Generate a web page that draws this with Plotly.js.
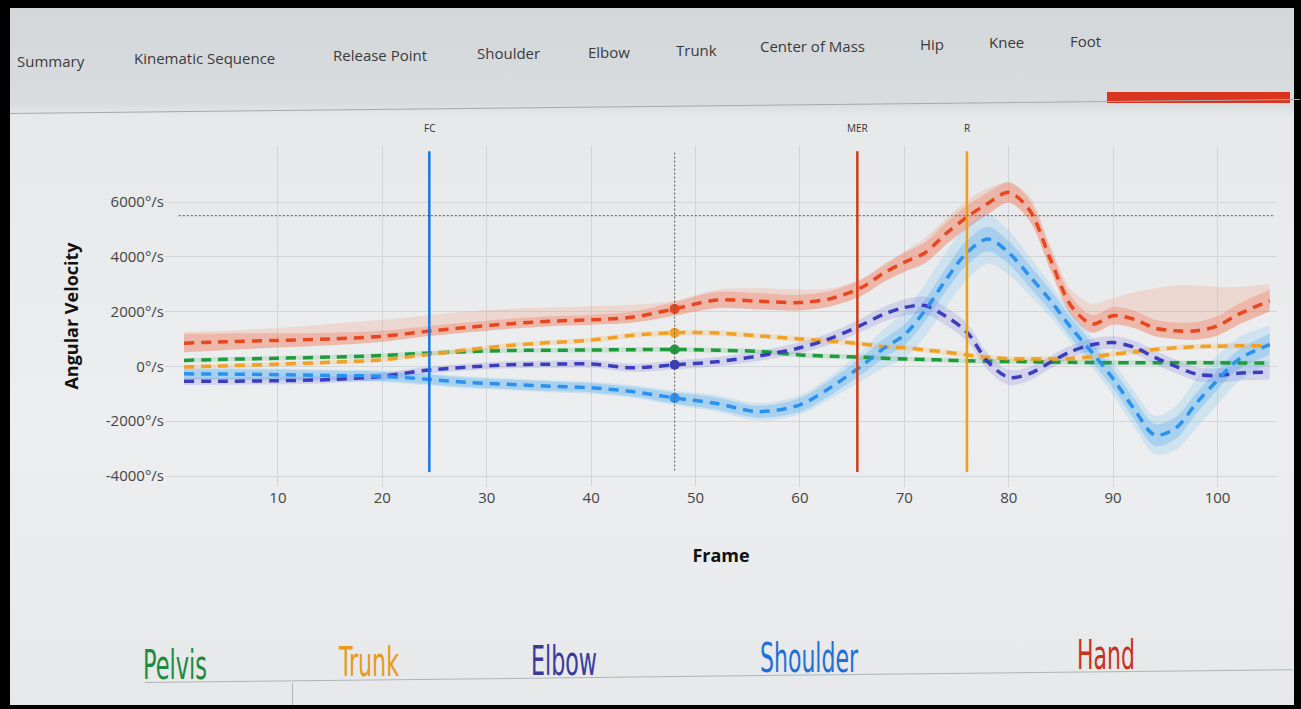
<!DOCTYPE html>
<html><head><meta charset="utf-8">
<script src="https://cdn.plot.ly/plotly-3.0.1.min.js"></script>
<style>
html,body{margin:0;padding:0;background:#000;width:1301px;height:709px;overflow:hidden;}
#screen{position:absolute;left:10px;top:8px;width:1284px;height:697px;background:linear-gradient(to bottom,#d4d7da 0px,#d9dcde 95px,#e6e8e9 108px,#eceeef 420px,#e6e8e9 697px);overflow:hidden;}
.nav{position:absolute;font-family:"Open Sans",sans-serif;font-size:15px;color:#3a3a3a;white-space:nowrap;line-height:20px;}
.leg{position:absolute;font-family:"Liberation Sans Narrow","DejaVu Sans Condensed",sans-serif;font-size:30px;line-height:30px;transform-origin:left bottom;white-space:nowrap;}
#chart{position:absolute;left:0;top:0;width:1301px;height:709px;}
</style></head>
<body>
<div id="screen"></div>
<div class="nav" style="left:17px;top:51px;">Summary</div>
<div class="nav" style="left:134px;top:48px;">Kinematic Sequence</div>
<div class="nav" style="left:333px;top:45px;">Release Point</div>
<div class="nav" style="left:477px;top:43px;">Shoulder</div>
<div class="nav" style="left:588px;top:42px;">Elbow</div>
<div class="nav" style="left:676px;top:40px;">Trunk</div>
<div class="nav" style="left:760px;top:36px;">Center of Mass</div>
<div class="nav" style="left:920px;top:34px;">Hip</div>
<div class="nav" style="left:989px;top:32px;">Knee</div>
<div class="nav" style="left:1070px;top:31px;">Foot</div>
<div style="position:absolute;left:1107px;top:92px;width:183px;height:11px;background:#d8341e;"></div>
<div style="position:absolute;left:10px;top:113px;width:1290px;height:1px;background:#a4a9ad;transform:rotate(-0.62deg);transform-origin:left center;"></div>
<div style="position:absolute;left:145px;top:682px;width:1148px;height:1px;background:#b0b4b7;transform:rotate(-0.64deg);transform-origin:left center;"></div>
<div style="position:absolute;left:292px;top:683px;width:1px;height:22px;background:#b0b4b7;"></div>
<div class="leg" data-w="64" style="left:143px;top:656px;color:#1d8a3e;">Pelvis</div>
<div class="leg" data-w="60" style="left:339px;top:653px;color:#e89a20;">Trunk</div>
<div class="leg" data-w="66" style="left:531px;top:652px;color:#3b3a9a;">Elbow</div>
<div class="leg" data-w="98" style="left:760px;top:649px;color:#1f6fd6;">Shoulder</div>
<div class="leg" data-w="58" style="left:1077px;top:646px;color:#c8321c;">Hand</div>
<div id="chart"></div>
<script>
// ---- data ----
const frames = [1,5,10,15,20,24,28,32,36,40,44,48,52,56,60,63,66,68,70,72,74,76,78,80,82,84,86,88,90,92,94,96,98,100,102,105];
const hand = [850,900,950,1000,1100,1270,1420,1550,1650,1700,1800,2100,2420,2380,2330,2480,2900,3400,3800,4150,4850,5450,5950,6350,5700,3900,2200,1550,1850,1720,1400,1300,1300,1480,1900,2400];
const shoulder = [-270,-280,-300,-330,-360,-460,-580,-650,-720,-780,-920,-1150,-1350,-1650,-1400,-750,50,650,1150,2050,3170,4150,4650,4150,3300,2400,1400,500,-450,-1550,-2500,-2250,-1330,-500,250,800];
const elbow = [-545,-540,-520,-480,-360,-150,-30,60,80,90,-50,60,170,380,680,1030,1530,1900,2150,2220,1820,1250,170,-400,-260,150,550,790,870,700,330,0,-280,-330,-250,-210];
const trunk = [-20,20,80,150,240,420,600,760,870,960,1140,1230,1220,1120,1000,920,820,720,680,600,520,420,330,280,270,270,290,350,450,530,620,680,720,740,750,760];
const pelvis = [220,260,300,340,400,480,540,580,590,600,610,620,590,550,420,370,340,300,270,250,230,210,190,180,170,160,150,140,135,135,130,130,130,130,125,120];

const handSpread = [330,300,260,230,200,180,180,180,180,180,200,250,300,300,280,280,300,320,350,380,400,420,400,380,380,380,350,320,320,320,300,300,320,350,380,400];
const handEnvHi = [1250,1300,1400,1550,1700,1850,2000,2100,2150,2200,2250,2400,2800,2850,2800,2850,3200,3650,4200,4700,5400,6050,6500,6700,6200,4400,2800,2300,2500,2700,2850,2950,2950,2900,2900,3000];
const shoulderSpread = [180,180,180,170,170,170,170,170,170,170,170,200,220,220,250,280,320,350,380,400,420,450,450,420,400,380,360,350,350,380,400,400,380,350,350,380];
const shoulderOuter = [220,220,220,220,220,220,220,220,220,220,230,260,300,320,350,420,550,700,850,950,1000,1000,900,800,700,600,550,550,600,650,700,800,900,900,800,700];
const elbowSpread = [130,130,130,130,130,130,130,130,130,140,150,160,170,180,200,220,250,270,300,320,330,330,300,280,250,230,220,220,230,240,250,250,250,260,270,280];
const trunkSpread = [80,80,80,80,80,80,90,90,90,100,100,100,100,100,100,100,100,100,100,100,100,100,100,100,100,100,100,100,100,100,100,100,100,100,100,100];
const pelvisSpread = [80,80,80,80,80,80,80,80,80,90,90,90,90,90,90,90,90,90,90,90,90,90,90,90,90,90,90,90,90,90,90,90,90,90,90,90];

const markerFrame = 48;
const eventNames = ["FC","MER","R"];
const eventFrames = [24.5,65.5,76];
const thresholdValue = 5500;

const xTicks = [10,20,30,40,50,60,70,80,90,100];
const yTicks = [-4000,-2000,0,2000,4000,6000];
const yTickText = ["-4000°/s","-2000°/s","0°/s","2000°/s","4000°/s","6000°/s"];

// ---- legend text fitting (condensed look) ----
document.querySelectorAll('.leg').forEach(el=>{
  const w = el.getBoundingClientRect().width;
  const target = parseFloat(el.dataset.w);
  el.style.transform = 'scale(' + (target / w) + ',1.35)';
});

// ---- styles ----
const C = {
  hand:'#e8461e', shoulder:'#2a92ee', elbow:'#3b3dbd', trunk:'#f2a024', pelvis:'#1f9a3c'
};
const eventColors = ['#1677e0','#d63a18','#eea014'];

const traces = [];
function band(lo, hi, color){
  traces.push({x:frames, y:lo, mode:'lines', line:{width:0, shape:'spline', smoothing:0.9}, hoverinfo:'skip', showlegend:false});
  traces.push({x:frames, y:hi, mode:'lines', line:{width:0, shape:'spline', smoothing:0.9}, fill:'tonexty', fillcolor:color, hoverinfo:'skip', showlegend:false});
}
const add = (a,b,s)=>a.map((v,i)=>v+s*b[i]);

band(add(hand,handSpread,-1), handEnvHi, 'rgba(245,140,110,0.22)');
band(add(hand,handSpread,-1), add(hand,handSpread,1), 'rgba(240,110,80,0.30)');
band(add(shoulder,shoulderOuter,-1), add(shoulder,shoulderOuter,1), 'rgba(110,190,245,0.22)');
band(add(shoulder,shoulderSpread,-1), add(shoulder,shoulderSpread,1), 'rgba(80,170,240,0.30)');
band(add(elbow,elbowSpread,-1), add(elbow,elbowSpread,1), 'rgba(110,110,220,0.20)');
band(add(trunk,trunkSpread,-1), add(trunk,trunkSpread,1), 'rgba(245,170,60,0.20)');
band(add(pelvis,pelvisSpread,-1), add(pelvis,pelvisSpread,1), 'rgba(60,170,90,0.18)');

const series = [['Pelvis',pelvis,C.pelvis],['Trunk',trunk,C.trunk],['Elbow',elbow,C.elbow],['Shoulder',shoulder,C.shoulder],['Hand',hand,C.hand]];
const mi = frames.indexOf(markerFrame);
series.forEach(([name,vals,col])=>{
  traces.push({x:frames, y:vals, name:name, mode:'lines', line:{color:col, width:3.5, dash:'10px,7px', shape:'spline', smoothing:0.9}});
  traces.push({x:[frames[mi]], y:[vals[mi]], mode:'markers', marker:{color:col, size:10}, showlegend:false, hoverinfo:'skip'});
});

const shapes = [];
eventFrames.forEach((f,i)=>{
  shapes.push({type:'line', xref:'x', yref:'y', x0:f, x1:f, y0:-3850, y1:7850, line:{color:eventColors[i], width:2.5}});
});
shapes.push({type:'line', xref:'x', yref:'y', x0:markerFrame, x1:markerFrame, y0:-3800, y1:7800, line:{color:'#555', width:1, dash:'2px,2px'}});
shapes.push({type:'line', xref:'x', yref:'y', x0:0.5, x1:105.5, y0:thresholdValue, y1:thresholdValue, line:{color:'#555', width:1, dash:'2px,2px'}});

const annotations = eventNames.map((n,i)=>({
  text:n, x:eventFrames[i], xref:'x', y:1, yref:'paper', yanchor:'bottom', yshift:8, showarrow:false,
  font:{family:'Open Sans', size:10, color:'#333'}
}));

const layout = {
  width:1301, height:709,
  margin:{l:165, r:24, t:145, b:222},
  paper_bgcolor:'rgba(0,0,0,0)', plot_bgcolor:'rgba(0,0,0,0)',
  showlegend:false,
  xaxis:{range:[-0.82,105.7], tickvals:xTicks, showgrid:true, gridcolor:'#d3d6d8', gridwidth:1, zeroline:false, showline:false, ticks:'',
    tickfont:{family:'Open Sans', size:15, color:'#444'},
    title:{text:'Frame', font:{family:'Open Sans', size:18, color:'#111', weight:'bold'}, standoff:43}},
  yaxis:{range:[-4400,8080], tickvals:yTicks, ticktext:yTickText, showgrid:true, gridcolor:'#d3d6d8', gridwidth:1, zeroline:false, showline:false, ticks:'',
    tickfont:{family:'Open Sans', size:15, color:'#444'},
    title:{text:'Angular Velocity', font:{family:'Open Sans', size:18, color:'#111', weight:'bold'}, standoff:22}},
  shapes:shapes, annotations:annotations
};
Plotly.newPlot('chart', traces, layout, {displayModeBar:false, staticPlot:true});
</script>
</body></html>
